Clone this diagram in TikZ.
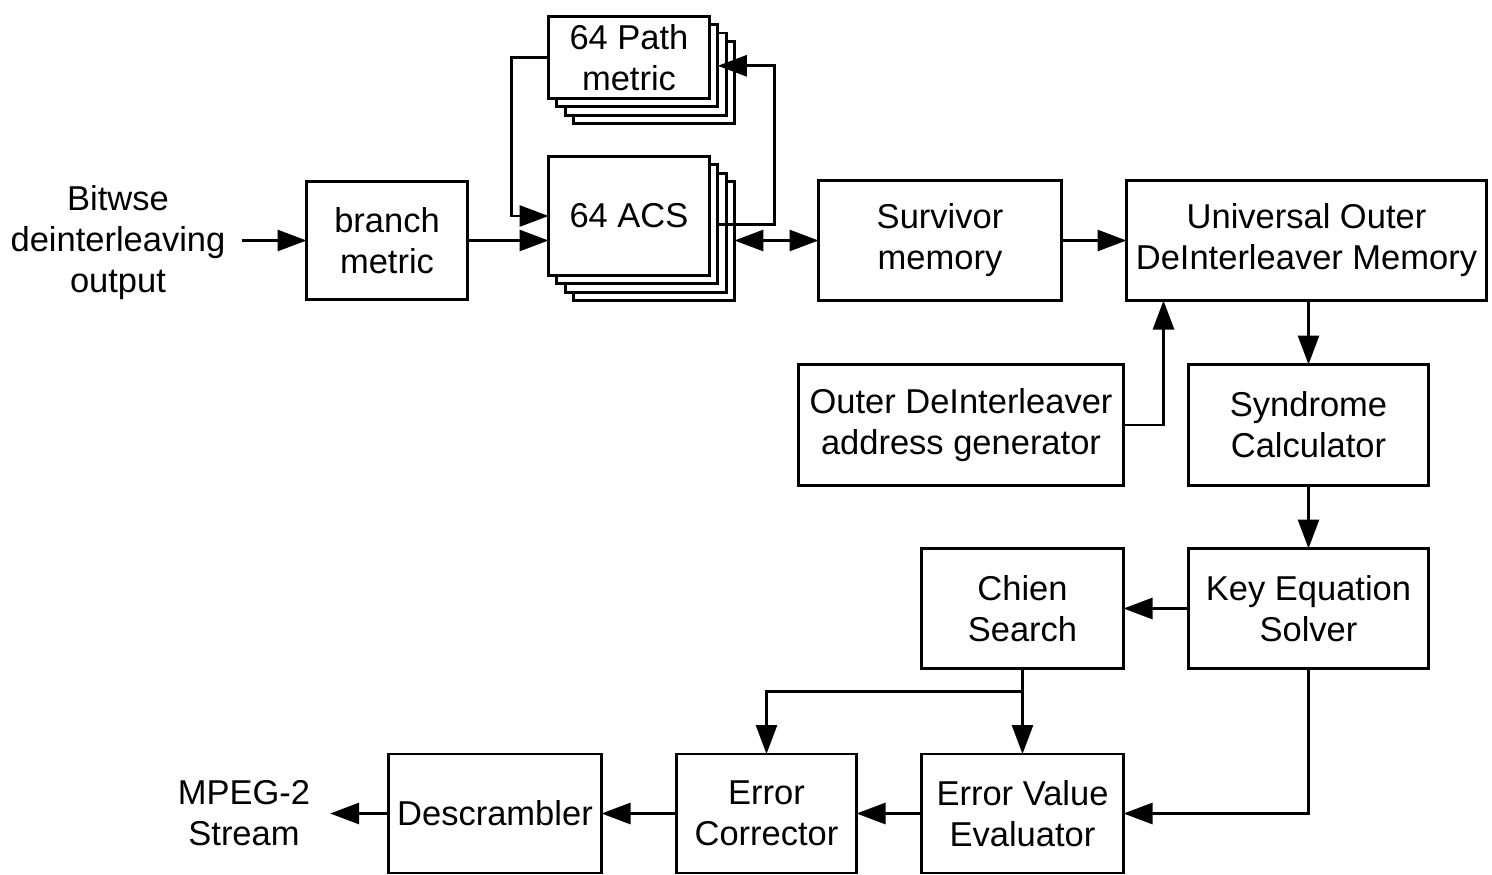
\documentclass[tikz,border=0pt]{standalone}
\usepackage{fontspec}
\setmainfont{Liberation Sans}
\usetikzlibrary{arrows.meta}
\begin{document}
\begin{tikzpicture}[x=1pt,y=-1pt,
  txt/.style={inner sep=0pt, outer sep=0pt, align=center, font=\fontsize{34.5}{41}\selectfont},
  box/.style={txt, draw, line width=2.8pt, fill=white},
  arr/.style={line width=2.8pt, -{Triangle[length=29pt,width=21pt]}},
  darr/.style={line width=2.8pt, {Triangle[length=29pt,width=21pt]}-{Triangle[length=29pt,width=21pt]}},
  ln/.style={line width=2.8pt}]
\useasboundingbox (0,0) rectangle (1492,875);

% input label
\node[txt] (in) at (118,243) {Bitwse\\deinterleaving\\output};
\node[box, minimum width=161pt, minimum height=118pt] (branch) at (387,240.5) {branch\\metric};

% stacked path metric
\foreach \k in {3,2,1}{
  \node[box, minimum width=161pt, minimum height=82pt] (pm\k) at ({629+8.3*\k},{57.5+8.3*\k}) {};
}
\node[box, minimum width=161pt, minimum height=82pt] (pm) at (629,57.5) {64 Path\\metric};

% stacked ACS
\foreach \k in {3,2,1}{
  \node[box, minimum width=161pt, minimum height=119pt] (acs\k) at ({629+8.3*\k},{216+8.3*\k}) {};
}
\node[box, minimum width=161pt, minimum height=119pt] (acs) at (629,216) {64 ACS};

\node[box, minimum width=243pt, minimum height=120pt] (surv) at (940,240.5) {Survivor\\memory};
\node[box, minimum width=360pt, minimum height=120pt] (uni) at (1306.5,240.5) {Universal Outer\\DeInterleaver Memory};
\node[box, minimum width=325pt, minimum height=121pt] (addr) at (961,425) {Outer DeInterleaver\\address generator};
\node[box, minimum width=240pt, minimum height=121pt] (syn) at (1308.5,425) {Syndrome\\Calculator};
\node[box, minimum width=240pt, minimum height=120pt] (key) at (1308.5,608.5) {Key Equation\\Solver};
\node[box, minimum width=202pt, minimum height=120pt] (chien) at (1022.5,608.5) {Chien\\Search};
\node[box, minimum width=202pt, minimum height=119pt] (eval) at (1022.5,813.5) {Error Value\\Evaluator};
\node[box, minimum width=180pt, minimum height=119pt] (corr) at (766.5,813.5) {Error\\Corrector};
\node[box, minimum width=213pt, minimum height=119pt] (desc) at (495,813.5) {Descrambler};
\node[txt] (mpeg) at (244,813.5) {MPEG-2\\Stream};

% connectors
\draw[arr, shorten <=17pt] (in.east |- branch.west) -- (branch.west);
\draw[arr] (branch.east) -- (branch.east -| acs.west);
\draw[arr] (pm.west) -- ++(-37,0) |- (acs.west);
\draw[arr] (acs1.east) -- ++(57,0) |- (pm1.east);
\draw[darr] (acs3.east |- surv.west) -- (surv.west);
\draw[arr] (surv.east) -- (uni.west);
\coordinate (up) at ([xshift=37pt]uni.south west);
\draw[arr] (addr.east) -| (up);
\draw[arr] (syn.north |- uni.south) -- (syn.north);
\draw[arr] (syn.south) -- (key.north);
\draw[arr] (key.west) -- (chien.east);
\draw[arr] (chien.south) -- (eval.north);
\draw[arr] (chien.south) -- ++(0,23) -| (corr.north);
\draw[arr] (key.south) |- (eval.east);
\draw[arr] (eval.west) -- (corr.east);
\draw[arr] (corr.west) -- (desc.east);
\draw[arr, shorten >=20pt] (desc.west) -- (desc.west -| mpeg.east);
\end{tikzpicture}
\end{document}
